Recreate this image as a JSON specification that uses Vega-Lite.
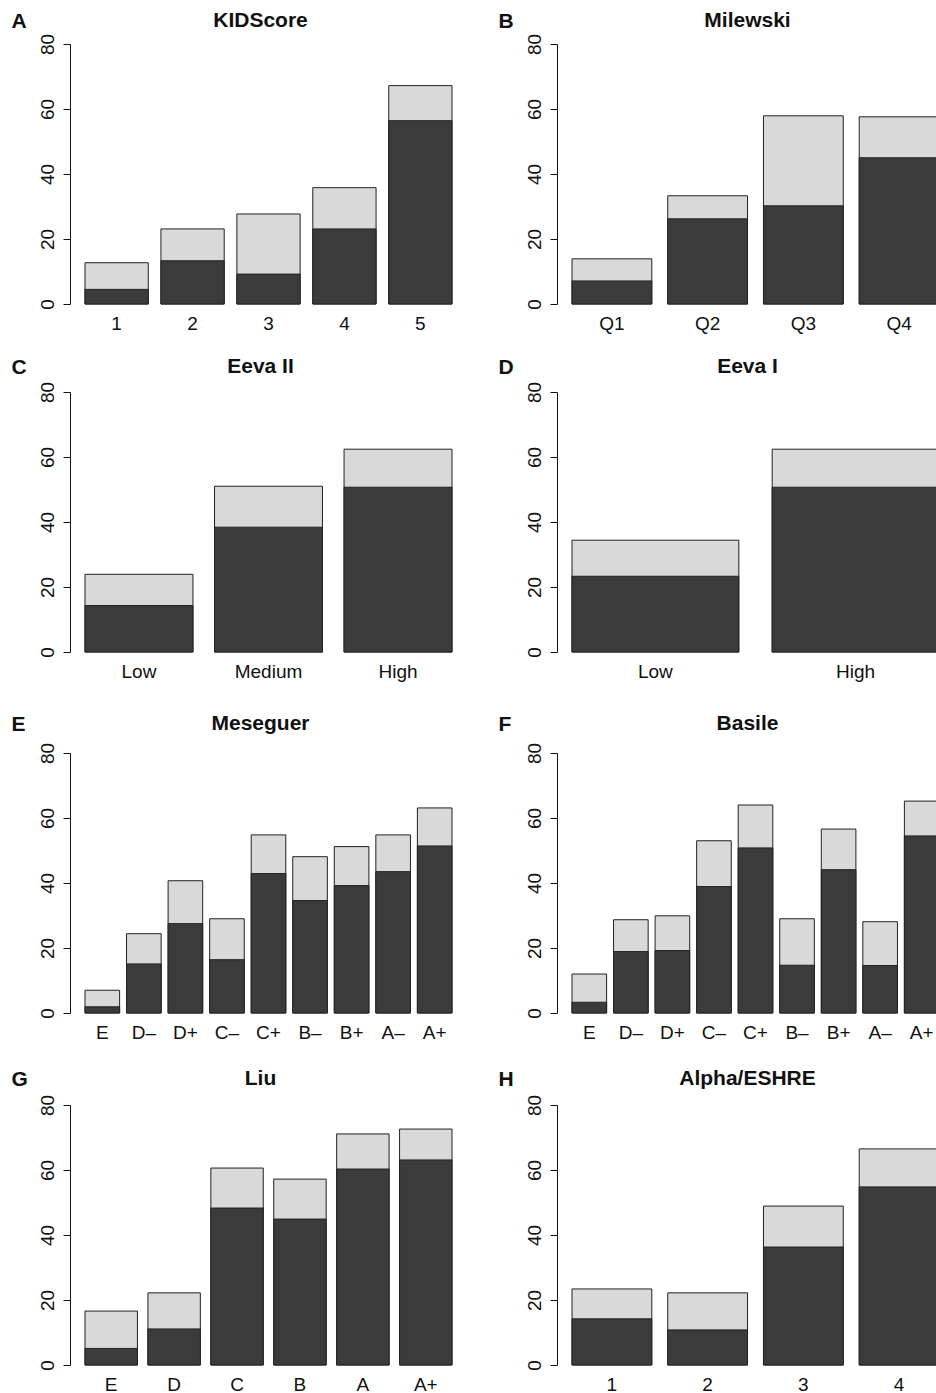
{
  "$schema": "https://vega.github.io/schema/vega-lite/v6.json",
  "padding": {"left": 11, "top": 10, "right": 0, "bottom": 0},
  "background": "white",
  "data": {"values": [
    {"panel": "A", "cat": "1", "total": 12.7, "sub": 4.5},
    {"panel": "A", "cat": "2", "total": 23.1, "sub": 13.3},
    {"panel": "A", "cat": "3", "total": 27.7, "sub": 9.2},
    {"panel": "A", "cat": "4", "total": 35.8, "sub": 23.1},
    {"panel": "A", "cat": "5", "total": 67.2, "sub": 56.4},
    {"panel": "B", "cat": "Q1", "total": 13.9, "sub": 7.1},
    {"panel": "B", "cat": "Q2", "total": 33.3, "sub": 26.2},
    {"panel": "B", "cat": "Q3", "total": 57.9, "sub": 30.2},
    {"panel": "B", "cat": "Q4", "total": 57.6, "sub": 45.0},
    {"panel": "C", "cat": "Low", "total": 23.9, "sub": 14.3},
    {"panel": "C", "cat": "Medium", "total": 51.0, "sub": 38.4},
    {"panel": "C", "cat": "High", "total": 62.4, "sub": 50.7},
    {"panel": "D", "cat": "Low", "total": 34.4, "sub": 23.3},
    {"panel": "D", "cat": "High", "total": 62.4, "sub": 50.7},
    {"panel": "E", "cat": "E", "total": 7.0, "sub": 1.9},
    {"panel": "E", "cat": "D–", "total": 24.4, "sub": 15.1},
    {"panel": "E", "cat": "D+", "total": 40.7, "sub": 27.5},
    {"panel": "E", "cat": "C–", "total": 29.0, "sub": 16.4},
    {"panel": "E", "cat": "C+", "total": 54.8, "sub": 42.9},
    {"panel": "E", "cat": "B–", "total": 48.1, "sub": 34.6},
    {"panel": "E", "cat": "B+", "total": 51.2, "sub": 39.2},
    {"panel": "E", "cat": "A–", "total": 54.8, "sub": 43.5},
    {"panel": "E", "cat": "A+", "total": 63.1, "sub": 51.4},
    {"panel": "F", "cat": "E", "total": 12.0, "sub": 3.3},
    {"panel": "F", "cat": "D–", "total": 28.7, "sub": 18.9},
    {"panel": "F", "cat": "D+", "total": 29.9, "sub": 19.2},
    {"panel": "F", "cat": "C–", "total": 53.0, "sub": 38.9},
    {"panel": "F", "cat": "C+", "total": 64.0, "sub": 50.8},
    {"panel": "F", "cat": "B–", "total": 29.0, "sub": 14.7},
    {"panel": "F", "cat": "B+", "total": 56.6, "sub": 44.1},
    {"panel": "F", "cat": "A–", "total": 28.1, "sub": 14.6},
    {"panel": "F", "cat": "A+", "total": 65.2, "sub": 54.5},
    {"panel": "G", "cat": "E", "total": 16.6, "sub": 5.1},
    {"panel": "G", "cat": "D", "total": 22.2, "sub": 11.1},
    {"panel": "G", "cat": "C", "total": 60.6, "sub": 48.3},
    {"panel": "G", "cat": "B", "total": 57.2, "sub": 44.9},
    {"panel": "G", "cat": "A", "total": 71.1, "sub": 60.3},
    {"panel": "G", "cat": "A+", "total": 72.6, "sub": 63.1},
    {"panel": "H", "cat": "1", "total": 23.4, "sub": 14.2},
    {"panel": "H", "cat": "2", "total": 22.2, "sub": 10.8},
    {"panel": "H", "cat": "3", "total": 48.9, "sub": 36.3},
    {"panel": "H", "cat": "4", "total": 66.5, "sub": 54.8}
  ]},
  "config": {
    "view": {"stroke": null},
    "font": "Liberation Sans",
    "bar": {"stroke": "#222222", "strokeWidth": 1},
    "axis": {"grid": false, "labelFont": "Liberation Sans", "labelFontSize": 19, "labelColor": "#111111", "domainColor": "#111111", "tickColor": "#111111", "titleColor": "#111111", "labelOverlap": false, "titleFont": "Liberation Sans"},
    "axisX": {"domain": false, "ticks": false, "tickSize": 0, "labelAngle": 0, "labelBaseline": "alphabetic", "labelPadding": 25},
    "axisY": {"tickSize": 7, "domainWidth": 1, "tickWidth": 1, "labelAngle": -90, "labelAlign": "center", "labelBaseline": "alphabetic", "labelPadding": 10, "titleAngle": 0, "titleAlign": "left", "titleBaseline": "top", "titleX": -59, "titleFontSize": 21, "titleFontWeight": "bold"},
    "title": {"offset": -21, "baseline": "top", "frame": "group", "anchor": "middle", "dx": -8, "fontSize": 21, "fontWeight": "bold", "color": "#111111", "font": "Liberation Sans"}
  },
  "spacing": 32,
  "vconcat": [
    {
      "spacing": 23,
      "vconcat": [
        {
          "bounds": "flush",
          "spacing": 90,
          "hconcat": [
            {
              "width": 397, "height": 260,
              "title": {"text": "KIDScore"},
              "transform": [{"filter": "datum.panel === 'A'"}],
              "encoding": {"x": {"field": "cat", "type": "nominal", "sort": null, "title": null, "scale": {"paddingInner": 0.1667, "paddingOuter": 0.1975}}},
              "layer": [
                {"mark": {"type": "bar", "fill": "#d9d9d9"}, "encoding": {"y": {"field": "total", "type": "quantitative", "title": "A", "scale": {"domain": [0, 80]}, "axis": {"values": [0, 20, 40, 60, 80], "titleY": -34}}}},
                {"mark": {"type": "bar", "fill": "#3b3b3b"}, "encoding": {"y": {"field": "sub", "type": "quantitative", "title": "A"}}}
              ]
            },
            {
              "width": 397, "height": 260,
              "title": {"text": "Milewski"},
              "transform": [{"filter": "datum.panel === 'B'"}],
              "encoding": {"x": {"field": "cat", "type": "nominal", "sort": null, "title": null, "scale": {"paddingInner": 0.1667, "paddingOuter": 0.1567}}},
              "layer": [
                {"mark": {"type": "bar", "fill": "#d9d9d9"}, "encoding": {"y": {"field": "total", "type": "quantitative", "title": "B", "scale": {"domain": [0, 80]}, "axis": {"values": [0, 20, 40, 60, 80], "titleY": -34}}}},
                {"mark": {"type": "bar", "fill": "#3b3b3b"}, "encoding": {"y": {"field": "sub", "type": "quantitative", "title": "B"}}}
              ]
            }
          ]
        },
        {
          "bounds": "flush",
          "spacing": 90,
          "hconcat": [
            {
              "width": 397, "height": 260,
              "title": {"text": "Eeva II"},
              "transform": [{"filter": "datum.panel === 'C'"}],
              "encoding": {"x": {"field": "cat", "type": "nominal", "sort": null, "title": null, "scale": {"paddingInner": 0.1667, "paddingOuter": 0.1158}}},
              "layer": [
                {"mark": {"type": "bar", "fill": "#d9d9d9"}, "encoding": {"y": {"field": "total", "type": "quantitative", "title": "C", "scale": {"domain": [0, 80]}, "axis": {"values": [0, 20, 40, 60, 80], "titleY": -36}}}},
                {"mark": {"type": "bar", "fill": "#3b3b3b"}, "encoding": {"y": {"field": "sub", "type": "quantitative", "title": "C"}}}
              ]
            },
            {
              "width": 397, "height": 260,
              "title": {"text": "Eeva I"},
              "transform": [{"filter": "datum.panel === 'D'"}],
              "encoding": {"x": {"field": "cat", "type": "nominal", "sort": null, "title": null, "scale": {"paddingInner": 0.1667, "paddingOuter": 0.0749}}},
              "layer": [
                {"mark": {"type": "bar", "fill": "#d9d9d9"}, "encoding": {"y": {"field": "total", "type": "quantitative", "title": "D", "scale": {"domain": [0, 80]}, "axis": {"values": [0, 20, 40, 60, 80], "titleY": -36}}}},
                {"mark": {"type": "bar", "fill": "#3b3b3b"}, "encoding": {"y": {"field": "sub", "type": "quantitative", "title": "D"}}}
              ]
            }
          ]
        }
      ]
    },
    {
      "spacing": 26,
      "vconcat": [
        {
          "bounds": "flush",
          "spacing": 90,
          "hconcat": [
            {
              "width": 397, "height": 260,
              "title": {"text": "Meseguer"},
              "transform": [{"filter": "datum.panel === 'E'"}],
              "encoding": {"x": {"field": "cat", "type": "nominal", "sort": null, "title": null, "scale": {"paddingInner": 0.1667, "paddingOuter": 0.361}}},
              "layer": [
                {"mark": {"type": "bar", "fill": "#d9d9d9"}, "encoding": {"y": {"field": "total", "type": "quantitative", "title": "E", "scale": {"domain": [0, 80]}, "axis": {"values": [0, 20, 40, 60, 80], "titleY": -40}}}},
                {"mark": {"type": "bar", "fill": "#3b3b3b"}, "encoding": {"y": {"field": "sub", "type": "quantitative", "title": "E"}}}
              ]
            },
            {
              "width": 397, "height": 260,
              "title": {"text": "Basile"},
              "transform": [{"filter": "datum.panel === 'F'"}],
              "encoding": {"x": {"field": "cat", "type": "nominal", "sort": null, "title": null, "scale": {"paddingInner": 0.1667, "paddingOuter": 0.361}}},
              "layer": [
                {"mark": {"type": "bar", "fill": "#d9d9d9"}, "encoding": {"y": {"field": "total", "type": "quantitative", "title": "F", "scale": {"domain": [0, 80]}, "axis": {"values": [0, 20, 40, 60, 80], "titleY": -40}}}},
                {"mark": {"type": "bar", "fill": "#3b3b3b"}, "encoding": {"y": {"field": "sub", "type": "quantitative", "title": "F"}}}
              ]
            }
          ]
        },
        {
          "bounds": "flush",
          "spacing": 90,
          "hconcat": [
            {
              "width": 397, "height": 260,
              "title": {"text": "Liu"},
              "transform": [{"filter": "datum.panel === 'G'"}],
              "encoding": {"x": {"field": "cat", "type": "nominal", "sort": null, "title": null, "scale": {"paddingInner": 0.1667, "paddingOuter": 0.2384}}},
              "layer": [
                {"mark": {"type": "bar", "fill": "#d9d9d9"}, "encoding": {"y": {"field": "total", "type": "quantitative", "title": "G", "scale": {"domain": [0, 80]}, "axis": {"values": [0, 20, 40, 60, 80], "titleY": -37}}}},
                {"mark": {"type": "bar", "fill": "#3b3b3b"}, "encoding": {"y": {"field": "sub", "type": "quantitative", "title": "G"}}}
              ]
            },
            {
              "width": 397, "height": 260,
              "title": {"text": "Alpha/ESHRE"},
              "transform": [{"filter": "datum.panel === 'H'"}],
              "encoding": {"x": {"field": "cat", "type": "nominal", "sort": null, "title": null, "scale": {"paddingInner": 0.1667, "paddingOuter": 0.1567}}},
              "layer": [
                {"mark": {"type": "bar", "fill": "#d9d9d9"}, "encoding": {"y": {"field": "total", "type": "quantitative", "title": "H", "scale": {"domain": [0, 80]}, "axis": {"values": [0, 20, 40, 60, 80], "titleY": -37}}}},
                {"mark": {"type": "bar", "fill": "#3b3b3b"}, "encoding": {"y": {"field": "sub", "type": "quantitative", "title": "H"}}}
              ]
            }
          ]
        }
      ]
    }
  ]
}
